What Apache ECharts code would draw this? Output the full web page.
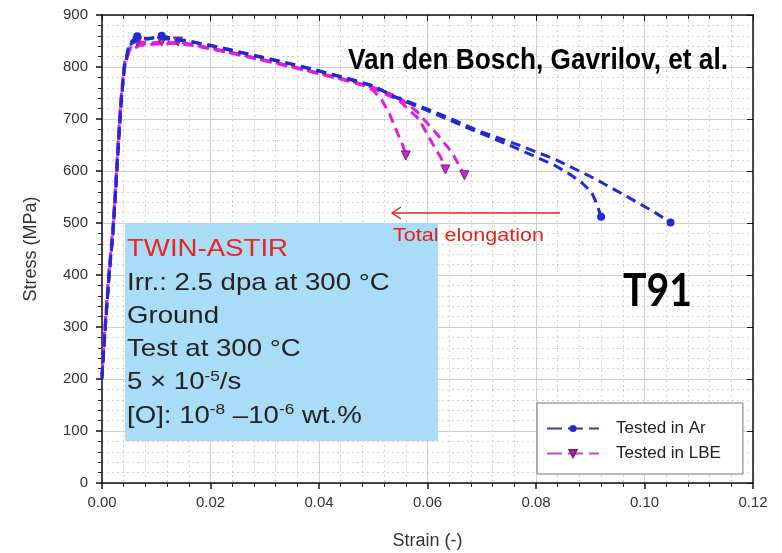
<!DOCTYPE html>
<html>
<head>
<meta charset="utf-8">
<script src="https://cdn.jsdelivr.net/npm/echarts@6/dist/echarts.min.js"></script>
<style>html,body{margin:0;padding:0;background:#fff;overflow:hidden;width:782px;height:553px}#c{width:782px;height:553px}</style>
</head>
<body>
<div id="c"></div>
<script>
// ---- data ----
const xTicks = [0.00, 0.02, 0.04, 0.06, 0.08, 0.10, 0.12];
const yTicks = [0, 100, 200, 300, 400, 500, 600, 700, 800, 900];

const ar1Strain = [0, 0.0006, 0.0013, 0.0020, 0.0025, 0.0030, 0.0035, 0.0041, 0.0050, 0.0065, 0.0080, 0.0100, 0.0120, 0.0150, 0.0200, 0.0250, 0.0300, 0.0350, 0.0400, 0.0450, 0.0500, 0.0540, 0.0600, 0.0660, 0.0720, 0.0755, 0.0800, 0.0836, 0.0865, 0.0885, 0.0902, 0.0912, 0.0920];
const ar1Stress = [205, 300, 400, 480, 560, 650, 730, 800, 845, 859, 855, 856, 854, 851, 842, 830, 818, 806, 793, 779, 764, 742, 716, 689, 663, 648, 627, 610, 592, 577, 560, 537, 512];

const ar2Strain = [0, 0.0006, 0.0013, 0.0020, 0.0025, 0.0030, 0.0035, 0.0041, 0.0050, 0.0065, 0.0085, 0.0110, 0.0130, 0.0160, 0.0200, 0.0250, 0.0300, 0.0350, 0.0400, 0.0450, 0.0500, 0.0540, 0.0600, 0.0633, 0.0695, 0.0773, 0.0836, 0.0909, 0.0976, 0.1015, 0.1048];
const ar2Stress = [200, 295, 395, 478, 555, 645, 725, 795, 842, 852, 854, 860, 855, 850, 841, 829, 817, 805, 792, 778, 763, 743, 719, 705, 677, 648, 622, 585, 546, 523, 501];

const lbe1Strain = [0, 0.0006, 0.0013, 0.0020, 0.0025, 0.0030, 0.0035, 0.0041, 0.0050, 0.0065, 0.0085, 0.0110, 0.0140, 0.0170, 0.0200, 0.0250, 0.0300, 0.0350, 0.0400, 0.0450, 0.0480, 0.0500, 0.0515, 0.0530, 0.0545, 0.0555, 0.0560];
const lbe1Stress = [210, 310, 410, 490, 570, 660, 740, 805, 835, 849, 846, 847, 845, 842, 836, 825, 813, 801, 788, 775, 766, 755, 738, 710, 672, 648, 630];

const lbe2Strain = [0, 0.0006, 0.0013, 0.0020, 0.0025, 0.0030, 0.0035, 0.0041, 0.0050, 0.0070, 0.0090, 0.0110, 0.0130, 0.0160, 0.0200, 0.0250, 0.0300, 0.0350, 0.0400, 0.0450, 0.0480, 0.0510, 0.0547, 0.0584, 0.0608, 0.0625, 0.0633];
const lbe2Stress = [205, 305, 405, 485, 565, 655, 735, 800, 832, 844, 845, 849, 846, 843, 835, 824, 812, 800, 787, 774, 765, 754, 736, 700, 655, 625, 603];

const lbe3Strain = [0, 0.0006, 0.0013, 0.0020, 0.0025, 0.0030, 0.0035, 0.0041, 0.0050, 0.0070, 0.0100, 0.0125, 0.0140, 0.0160, 0.0200, 0.0250, 0.0300, 0.0350, 0.0400, 0.0450, 0.0480, 0.0510, 0.0547, 0.0580, 0.0615, 0.0645, 0.0668];
const lbe3Stress = [200, 300, 400, 480, 560, 650, 730, 798, 830, 842, 844, 845, 849, 845, 836, 825, 813, 801, 788, 775, 767, 757, 742, 715, 674, 636, 592];

const legendNames = ['Tested in Ar', 'Tested in LBE'];

// ---- build ----
const BLUE = '#1f2ad0', MAG = '#e01ee0';
function markData(xs, ys) {
  let peak = 0;
  ys.forEach((v, i) => { if (v > ys[peak]) peak = i; });
  const last = xs.length - 1;
  return xs.map((x, i) => {
    const it = { value: [x, ys[i]] };
    if (i !== peak && i !== last) it.symbol = 'none';
    return it;
  });
}
function curve(name, xs, ys, isAr) {
  return {
    type: 'line', name: name, data: markData(xs, ys),
    xAxisIndex: 0, yAxisIndex: 0,
    showSymbol: true, showAllSymbol: true,
    symbol: isAr ? 'circle' : 'triangle',
    symbolRotate: isAr ? 0 : 180,
    symbolSize: isAr ? 8 : 9,
    itemStyle: isAr ? { color: BLUE } : { color: '#c82ad0', borderColor: '#7a2080', borderWidth: 1 },
    lineStyle: { color: isAr ? BLUE : MAG, width: 3, type: [10, 6] },
    z: isAr ? 3 : 2, animation: false
  };
}
const fmt = v => v.toFixed(2);
const chart = echarts.init(document.getElementById('c'), null, { renderer: 'canvas' });

function measure(text, font) {
  const ctx = document.createElement('canvas').getContext('2d');
  ctx.font = font; return ctx.measureText(text).width;
}
const vdbFont = 'bold 30px "Liberation Sans"';
const vdbText = 'Van den Bosch, Gavrilov, et al.';
const vdbScale = 380 / measure(vdbText, vdbFont);
const t91Font = 'bold 45px Lato';
const t91Scale = 69 / measure('T91', t91Font);
const teFont = '19px "Liberation Sans"';
const teScale = 151 / measure('Total elongation', teFont);
const boxFont = '24px "Liberation Sans"';
const boxScale = 161 / measure('TWIN-ASTIR', boxFont);

const infoLines = [
  '{r|TWIN-ASTIR}',
  '{n|Irr.: 2.5 dpa at 300 °C}',
  '{n|Ground}',
  '{n|Test at 300 °C}',
  '{n|5 × 10}{s|-5}{n|/s}',
  '{n|[O]: 10}{s|-8}{n| –10}{s|-6}{n| wt.%}'
];

chart.setOption({
  backgroundColor: '#fff',
  animation: false,
  grid: { left: 102, right: 29, top: 15, bottom: 70, containLabel: false, outerBoundsMode: 'none' },
  xAxis: [{
    type: 'value', min: xTicks[0], max: xTicks[xTicks.length - 1], interval: 0.02, position: 'bottom',
    name: 'Strain (-)', nameLocation: 'middle', nameGap: 49,
    nameTextStyle: { fontFamily: 'Liberation Sans', fontSize: 18, color: '#333' },
    axisLine: { show: true, onZero: false, lineStyle: { color: '#111', width: 1.5 } },
    axisTick: { show: true, length: 6, lineStyle: { color: '#111', width: 1.5 } },
    minorTick: { show: true, splitNumber: 5, length: 4, lineStyle: { color: '#222' } },
    axisLabel: { formatter: fmt, fontFamily: 'Liberation Sans', fontSize: 15, color: '#333', margin: 12 },
    splitLine: { show: true, lineStyle: { color: '#cfcfcf', width: 1 } },
    minorSplitLine: { show: true, lineStyle: { color: '#d4d4d4', width: 1, type: [2, 3] } }
  }, {
    type: 'value', min: xTicks[0], max: xTicks[xTicks.length - 1], interval: 0.02, position: 'top',
    axisLine: { show: true, onZero: false, lineStyle: { color: '#111', width: 1.5 } },
    axisTick: { show: true, inside: true, length: 6, lineStyle: { color: '#111' } },
    minorTick: { show: true, splitNumber: 5, length: 4, lineStyle: { color: '#222' } },
    axisLabel: { show: false }, splitLine: { show: false }
  }],
  yAxis: [{
    type: 'value', min: yTicks[0], max: yTicks[yTicks.length - 1], interval: 100, position: 'left',
    name: 'Stress (MPa)', nameLocation: 'middle', nameGap: 62,
    nameTextStyle: { fontFamily: 'Liberation Sans', fontSize: 18, color: '#333' },
    axisLine: { show: true, onZero: false, lineStyle: { color: '#111', width: 1.5 } },
    axisTick: { show: true, length: 6, lineStyle: { color: '#111', width: 1.5 } },
    minorTick: { show: true, splitNumber: 5, length: 4, lineStyle: { color: '#222' } },
    axisLabel: { fontFamily: 'Liberation Sans', fontSize: 15, color: '#333', margin: 14 },
    splitLine: { show: true, lineStyle: { color: '#cfcfcf', width: 1 } },
    minorSplitLine: { show: true, lineStyle: { color: '#d4d4d4', width: 1, type: [2, 3] } }
  }, {
    type: 'value', min: yTicks[0], max: yTicks[yTicks.length - 1], interval: 100, position: 'right',
    axisLine: { show: true, onZero: false, lineStyle: { color: '#111', width: 1.5 } },
    axisTick: { show: true, inside: true, length: 6, lineStyle: { color: '#111' } },
    minorTick: { show: false },
    axisLabel: { show: false }, splitLine: { show: false }
  }],
  legend: {
    data: [
      { name: legendNames[0], lineStyle: { color: '#3a3fa0', width: 2, type: [15, 6] } },
      { name: legendNames[1], lineStyle: { color: '#c048c0', width: 2, type: [15, 6] } }
    ],
    orient: 'vertical', left: 537, top: 403,
    padding: [17, 22, 12, 9], itemGap: 8, itemWidth: 52, itemHeight: 9,
    backgroundColor: '#fff', borderColor: '#777', borderWidth: 1, borderRadius: 0,
    textStyle: { fontFamily: 'Liberation Sans', fontSize: 17, color: '#222', padding: [0, 0, 0, 12] }
  },
  series: [
    curve(legendNames[1], lbe1Strain, lbe1Stress, false),
    curve(legendNames[1], lbe2Strain, lbe2Stress, false),
    curve(legendNames[1], lbe3Strain, lbe3Stress, false),
    curve(legendNames[0], ar1Strain, ar1Stress, true),
    curve(legendNames[0], ar2Strain, ar2Stress, true)
  ],
  graphic: [
    { type: 'rect', shape: { x: 125, y: 223, width: 313, height: 218 }, style: { fill: '#a9dcf7' }, z: 1 },
    { type: 'text', x: 127, y: 233, scaleX: boxScale, z: 5,
      style: {
        text: infoLines.join('\n'), fill: '#222',
        rich: {
          r: { fontFamily: 'Liberation Sans', fontSize: 24, fill: '#e8251f', lineHeight: 33.3 },
          n: { fontFamily: 'Liberation Sans', fontSize: 24, fill: '#222', lineHeight: 33.3 },
          s: { fontFamily: 'Liberation Sans', fontSize: 15, fill: '#222', lineHeight: 33.3, padding: [0, 0, 12, 0] }
        }
      } },
    { type: 'text', x: 348, y: 61, scaleX: vdbScale, z: 5,
      style: { text: vdbText, font: vdbFont, fill: '#000', verticalAlign: 'middle' } },
    { type: 'text', x: 623, y: 291, scaleX: t91Scale, z: 5,
      style: { text: 'T91', font: t91Font, fill: '#000', verticalAlign: 'middle' } },
    { type: 'line', z: 5, shape: { x1: 560, y1: 213, x2: 392, y2: 213 }, style: { stroke: '#e8201c', lineWidth: 1.5 } },
    { type: 'polyline', z: 5, shape: { points: [[401, 207], [392, 213], [401, 219]] }, style: { stroke: '#e8201c', lineWidth: 1.5, fill: null } },
    { type: 'text', x: 393, y: 236, z: 5, scaleX: teScale,
      style: { text: 'Total elongation', font: teFont, fill: '#e8201c', verticalAlign: 'middle' } }
  ]
});
</script>
</body>
</html>
